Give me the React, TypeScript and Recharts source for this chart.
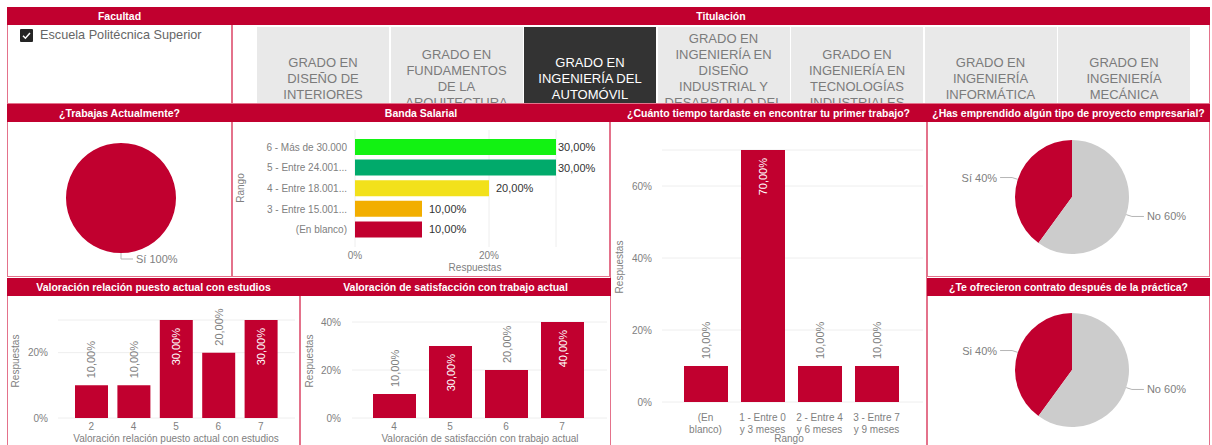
import React from 'react';
import {
  BarChart,
  Bar,
  XAxis,
  YAxis,
  CartesianGrid,
  Cell,
  LabelList,
  PieChart,
  Pie,
} from 'recharts';

const RED = '#C1002F';
const SLICE_GREY = '#CCCCCC';
const AXIS_TEXT = '#808080';
const GRID = '#EEEEEE';
const BORDER = '#E4728B';
const FONT = '"Liberation Sans", Arial, Helvetica, sans-serif';

// Slicers
const facultades = ['Escuela Politécnica Superior'];
const titulaciones = [
  'GRADO EN DISEÑO DE INTERIORES',
  'GRADO EN FUNDAMENTOS DE LA ARQUITECTURA',
  'GRADO EN INGENIERÍA DEL AUTOMÓVIL',
  'GRADO EN INGENIERÍA EN DISEÑO INDUSTRIAL Y DESARROLLO DEL PRODUCTO',
  'GRADO EN INGENIERÍA EN TECNOLOGÍAS INDUSTRIALES',
  'GRADO EN INGENIERÍA INFORMÁTICA',
  'GRADO EN INGENIERÍA MECÁNICA',
];
const titulacionActiva = 'GRADO EN INGENIERÍA DEL AUTOMÓVIL';

// ¿Trabajas Actualmente?
const trabajasLabels = ['Sí'];
const trabajasValues = [100];

// Banda Salarial
const bandaRangos = [
  '6 - Más de 30.000',
  '5 - Entre 24.001...',
  '4 - Entre 18.001...',
  '3 - Entre 15.001...',
  '(En blanco)',
];
const bandaValues = [0.3, 0.3, 0.2, 0.1, 0.1];
const bandaColors = ['#12F212', '#01AA6B', '#F2E11B', '#F2AE00', RED];
const bandaTicks = [0, 0.2];

// ¿Cuánto tiempo tardaste en encontrar tu primer trabajo?
const tiempoRangos = ['(En blanco)', '1 - Entre 0 y 3 meses', '2 - Entre 4 y 6 meses', '3 - Entre 7 y 9 meses'];
const tiempoValues = [0.1, 0.7, 0.1, 0.1];
const tiempoTicks = [0, 0.2, 0.4, 0.6];

// ¿Has emprendido algún tipo de proyecto empresarial?
const emprendidoLabels = ['Sí', 'No'];
const emprendidoValues = [40, 60];

// Valoración relación puesto actual con estudios
const relacionNotas = ['2', '4', '5', '6', '7'];
const relacionValues = [0.1, 0.1, 0.3, 0.2, 0.3];
const relacionTicks = [0, 0.2];

// Valoración de satisfacción con trabajo actual
const satisfNotas = ['4', '5', '6', '7'];
const satisfValues = [0.1, 0.3, 0.2, 0.4];
const satisfTicks = [0, 0.2, 0.4];

// ¿Te ofrecieron contrato después de la práctica?
const contratoLabels = ['Si', 'No'];
const contratoValues = [40, 60];

const pct0 = (v: number) => `${Math.round(v * 100)}%`;
const pct2 = (v: number) => `${(v * 100).toFixed(2).replace('.', ',')}%`;

const toRows = (names: string[], values: number[]) => names.map((name, i) => ({ name, value: values[i] }));

// simple word wrap measured with a canvas
let measureCtx: CanvasRenderingContext2D | null = null;
const textWidth = (s: string, size: number) => {
  if (!measureCtx) measureCtx = document.createElement('canvas').getContext('2d');
  if (!measureCtx) return s.length * size * 0.55;
  measureCtx.font = `${size}px ${FONT}`;
  return measureCtx.measureText(s).width;
};
const wrapWords = (s: string, max: number, size: number) => {
  const lines: string[] = [];
  let cur = '';
  s.split(' ').forEach((w) => {
    const next = cur ? `${cur} ${w}` : w;
    if (cur && textWidth(next, size) > max) {
      lines.push(cur);
      cur = w;
    } else {
      cur = next;
    }
  });
  if (cur) lines.push(cur);
  return lines;
};

// Header + bordered body, Power BI style
const Panel = ({ x, y, w, h, title }: { x: number; y: number; w: number; h: number; title: string }) => (
  <>
    <div
      style={{
        position: 'absolute',
        left: x,
        top: y + 18,
        width: w,
        height: h - 18,
        boxSizing: 'border-box',
        border: `1px solid ${BORDER}`,
        borderTop: 'none',
      }}
    />
    <div
      style={{
        position: 'absolute',
        left: x,
        top: y,
        width: w,
        height: 18,
        background: RED,
        color: '#fff',
        fontWeight: 'bold',
        fontSize: 10.5,
        lineHeight: '18px',
        textAlign: 'center',
        whiteSpace: 'nowrap',
        overflow: 'hidden',
      }}
    >
      {title}
    </div>
  </>
);

const AxisTitle = ({ x, y, text, vertical }: { x: number; y: number; text: string; vertical?: boolean }) => (
  <div
    style={{
      position: 'absolute',
      left: x,
      top: y,
      transform: `translate(-50%, -50%)${vertical ? ' rotate(-90deg)' : ''}`,
      fontSize: 10,
      lineHeight: '12px',
      color: AXIS_TEXT,
      whiteSpace: 'nowrap',
    }}
  >
    {text}
  </div>
);

const renderPieLabel = (props: any) => {
  const { cx, cy, midAngle, outerRadius, name, value } = props;
  const rad = Math.PI / 180;
  const cos = Math.cos(-midAngle * rad);
  const sin = Math.sin(-midAngle * rad);
  const sx = cx + outerRadius * cos;
  const sy = cy + outerRadius * sin;
  const mx = cx + (outerRadius + 6) * cos;
  const my = cy + (outerRadius + 6) * sin;
  const dir = cos > -0.01 ? 1 : -1;
  const ex = mx + dir * 12;
  return (
    <g>
      <path d={`M${sx},${sy}L${mx},${my}L${ex},${my}`} stroke="#B5B5B5" fill="none" />
      <text
        x={ex + dir * 3}
        y={my}
        textAnchor={dir > 0 ? 'start' : 'end'}
        dominantBaseline="central"
        fill={AXIS_TEXT}
        fontSize={11}
        fontFamily={FONT}
      >
        {`${name} ${value}%`}
      </text>
    </g>
  );
};

// rotated value label: outside (grey) for small bars, inside (white) for tall ones
const ColumnLabel = (props: any) => {
  const { x, y, width, value } = props;
  const inside = value >= 0.3;
  const cx = x + width / 2;
  const ty = inside ? y + 8 : y - 7;
  return (
    <text
      x={cx}
      y={ty}
      transform={`rotate(-90 ${cx} ${ty})`}
      textAnchor={inside ? 'end' : 'start'}
      dominantBaseline="central"
      fill={inside ? '#fff' : AXIS_TEXT}
      fontSize={11}
      fontFamily={FONT}
    >
      {pct2(value)}
    </text>
  );
};

const BandaLabel = (props: any) => {
  const { x, y, width, height, value } = props;
  const lx = Math.min(x + width + 7, 325);
  return (
    <text x={lx} y={y + height / 2} dominantBaseline="central" fill="#333" fontSize={11} fontFamily={FONT}>
      {pct2(value)}
    </text>
  );
};

const CategoryTick = ({ x, y, payload }: any) => (
  <text x={x} y={y} textAnchor="end" dominantBaseline="central" fontSize={10} fill={AXIS_TEXT} fontFamily={FONT}>
    {payload.value}
  </text>
);

const WrapTick = ({ x, y, payload }: any) => {
  const lines = wrapWords(String(payload.value), 49, 10);
  return (
    <text textAnchor="middle" fontSize={10} fill={AXIS_TEXT} fontFamily={FONT}>
      {lines.map((l, i) => (
        <tspan key={i} x={x} y={y + 4 + i * 12} dominantBaseline="central">
          {l}
        </tspan>
      ))}
    </text>
  );
};

const tickStyle = { fontSize: 10, fill: AXIS_TEXT, fontFamily: FONT };

const PiePanel = ({ left, top, w, h, cx, cy, r, labels, values }: any) => (
  <div style={{ position: 'absolute', left, top }}>
    <PieChart width={w} height={h} margin={{ top: 0, right: 0, bottom: 0, left: 0 }}>
      <Pie
        data={toRows(labels, values)}
        dataKey="value"
        nameKey="name"
        cx={cx}
        cy={cy}
        outerRadius={r}
        startAngle={90}
        endAngle={450}
        stroke="none"
        label={renderPieLabel}
        labelLine={false}
        isAnimationActive={false}
      >
        {labels.map((l: string, i: number) => (
          <Cell key={l} fill={i === 0 ? RED : SLICE_GREY} />
        ))}
      </Pie>
    </PieChart>
  </div>
);

const ColumnChart = ({ left, top, w, h, margin, yWidth, tickMargin, padding, barSize, names, values, ticks, wrap }: any) => (
  <div style={{ position: 'absolute', left, top }}>
    <BarChart width={w} height={h} data={toRows(names, values)} margin={margin}>
      <CartesianGrid vertical={false} stroke={GRID} />
      <XAxis
        dataKey="name"
        axisLine={false}
        tickLine={false}
        tickSize={0}
        tickMargin={wrap ? 11 : 5}
        padding={padding}
        height={wrap ? 43 : 27}
        interval={0}
        tick={wrap ? <WrapTick /> : tickStyle}
      />
      <YAxis
        type="number"
        domain={[0, 'dataMax']}
        ticks={ticks}
        tickFormatter={pct0}
        axisLine={false}
        tickLine={false}
        tickSize={0}
        tickMargin={tickMargin}
        width={yWidth}
        tick={tickStyle}
      />
      <Bar dataKey="value" fill={RED} barSize={barSize} isAnimationActive={false}>
        <LabelList dataKey="value" content={<ColumnLabel />} />
      </Bar>
    </BarChart>
  </div>
);

export default function App() {
  return (
    <div
      style={{
        position: 'absolute',
        left: 0,
        top: 0,
        width: 1212,
        height: 445,
        overflow: 'hidden',
        background: '#fff',
        fontFamily: FONT,
      }}
    >
      {/* slicers */}
      <Panel x={7} y={7} w={225} h={97} title="Facultad" />
      <Panel x={232} y={7} w={978} h={97} title="Titulación" />
      {facultades.map((f, i) => (
        <div key={f} style={{ position: 'absolute', left: 20, top: 28 + i * 20, display: 'flex', alignItems: 'center' }}>
          <svg width={13} height={13} style={{ display: 'block' }}>
            <rect x={0} y={0} width={13} height={13} rx={1} fill="#252525" />
            <path d="M3,6.8 L5.4,9.2 L10,4" stroke="#fff" strokeWidth={1.5} fill="none" />
          </svg>
          <span style={{ marginLeft: 7, fontSize: 12.7, color: '#666', lineHeight: '14px' }}>{f}</span>
        </div>
      ))}
      <div style={{ position: 'absolute', left: 233, top: 25, width: 976, height: 78, overflow: 'hidden' }}>
        {titulaciones.map((t, i) => {
          const active = t === titulacionActiva;
          return (
            <div
              key={t}
              style={{
                position: 'absolute',
                left: 24 + i * 133.5,
                top: 2,
                width: 132,
                height: 104,
                boxSizing: 'border-box',
                padding: '0 5.8px',
                background: active ? '#333333' : '#E9E9E9',
                color: active ? '#fff' : '#7B7B7B',
                display: 'flex',
                alignItems: 'center',
                justifyContent: 'center',
                textAlign: 'center',
                fontSize: 13,
                lineHeight: '16px',
              }}
            >
              {t}
            </div>
          );
        })}
      </div>

      {/* panels */}
      <Panel x={7} y={104} w={225} h={173} title="¿Trabajas Actualmente?" />
      <Panel x={232} y={104} w={378} h={173} title="Banda Salarial" />
      <Panel x={610} y={104} w={317} h={342} title="¿Cuánto tiempo tardaste en encontrar tu primer trabajo?" />
      <Panel x={927} y={104} w={283} h={173} title="¿Has emprendido algún tipo de proyecto empresarial?" />
      <Panel x={7} y={278} w={293} h={168} title="Valoración relación puesto actual con estudios" />
      <Panel x={300} y={278} w={311} h={168} title="Valoración de satisfacción con trabajo actual" />
      <Panel x={927} y={278} w={283} h={168} title="¿Te ofrecieron contrato después de la práctica?" />

      {/* ¿Trabajas Actualmente? */}
      <PiePanel left={8} top={122} w={223} h={154} cx={113} cy={76} r={55} labels={trabajasLabels} values={trabajasValues} />

      {/* Banda Salarial */}
      <div style={{ position: 'absolute', left: 233, top: 122 }}>
        <BarChart
          width={376}
          height={153}
          layout="vertical"
          data={toRows(bandaRangos, bandaValues)}
          margin={{ top: 8, right: 53, bottom: 8, left: 12 }}
        >
          <CartesianGrid horizontal={false} stroke={GRID} />
          <XAxis
            type="number"
            domain={[0, 'dataMax']}
            ticks={bandaTicks}
            tickFormatter={pct0}
            axisLine={false}
            tickLine={false}
            tickSize={0}
            tickMargin={5}
            height={20}
            tick={tickStyle}
          />
          <YAxis
            type="category"
            dataKey="name"
            axisLine={false}
            tickLine={false}
            width={110}
            interval={0}
            padding={{ top: 7, bottom: 7 }}
            tick={<CategoryTick />}
          />
          <Bar dataKey="value" barSize={16} isAnimationActive={false}>
            {bandaColors.map((c, i) => (
              <Cell key={i} fill={c} />
            ))}
            <LabelList dataKey="value" content={<BandaLabel />} />
          </Bar>
        </BarChart>
      </div>
      <AxisTitle x={241} y={188} text="Rango" vertical />
      <AxisTitle x={475} y={268} text="Respuestas" />

      {/* ¿Cuánto tiempo...? */}
      <ColumnChart
        left={611}
        top={122}
        w={315}
        h={323}
        margin={{ top: 28, right: 3, bottom: 0, left: 6 }}
        yWidth={45}
        tickMargin={10}
        padding={{ left: 15, right: 18 }}
        barSize={44}
        names={tiempoRangos}
        values={tiempoValues}
        ticks={tiempoTicks}
        wrap
      />
      <AxisTitle x={620} y={267} text="Respuestas" vertical />
      <AxisTitle x={789} y={439} text="Rango" />

      {/* ¿Has emprendido...? */}
      <PiePanel left={928} top={122} w={282} h={154} cx={144} cy={75} r={57} labels={emprendidoLabels} values={emprendidoValues} />

      {/* Valoración relación puesto actual con estudios */}
      <ColumnChart
        left={8}
        top={296}
        w={292}
        h={149}
        margin={{ top: 24, right: 5, bottom: 0, left: 6 }}
        yWidth={44}
        tickMargin={10}
        padding={{ left: 12, right: 13 }}
        barSize={33}
        names={relacionNotas}
        values={relacionValues}
        ticks={relacionTicks}
      />
      <AxisTitle x={16} y={361} text="Respuestas" vertical />
      <AxisTitle x={176} y={439} text="Valoración relación puesto actual con estudios" />

      {/* Valoración de satisfacción con trabajo actual */}
      <ColumnChart
        left={301}
        top={296}
        w={309}
        h={149}
        margin={{ top: 26, right: 3, bottom: 0, left: 6 }}
        yWidth={45}
        tickMargin={11}
        padding={{ left: 14, right: 17 }}
        barSize={43}
        names={satisfNotas}
        values={satisfValues}
        ticks={satisfTicks}
      />
      <AxisTitle x={310} y={361} text="Respuestas" vertical />
      <AxisTitle x={480} y={439} text="Valoración de satisfacción con trabajo actual" />

      {/* ¿Te ofrecieron contrato...? */}
      <PiePanel left={928} top={296} w={282} h={149} cx={144} cy={74} r={57} labels={contratoLabels} values={contratoValues} />
    </div>
  );
}
